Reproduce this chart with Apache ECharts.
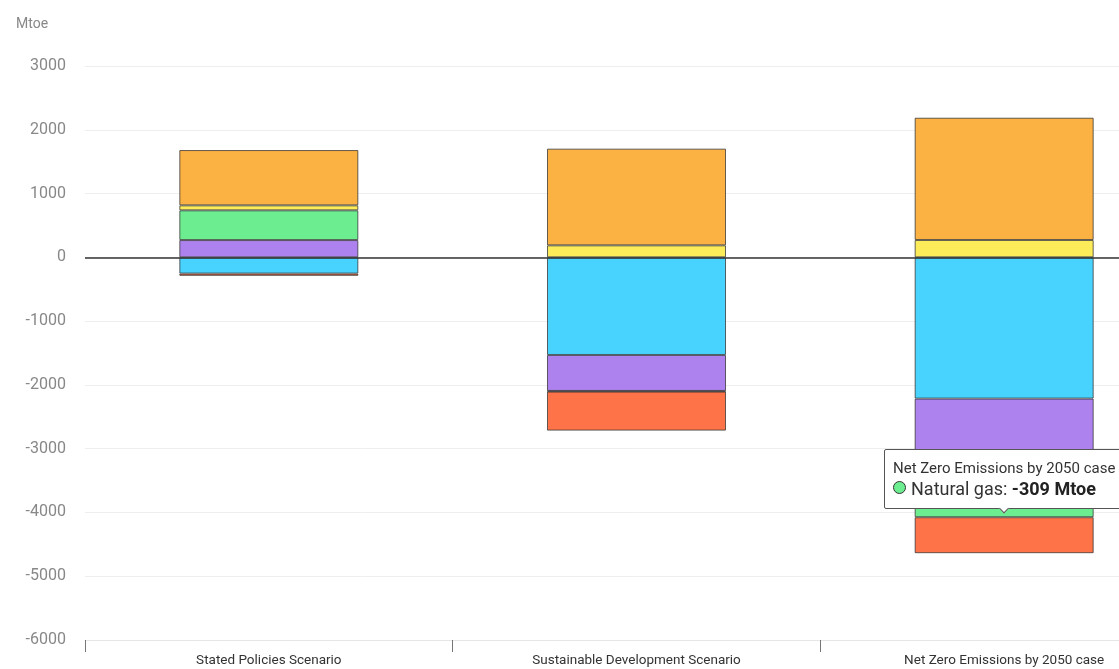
<!DOCTYPE html>
<html>
<head>
<meta charset="utf-8">
<title>Energy supply change by scenario</title>
<script src="https://cdn.jsdelivr.net/npm/echarts@6/dist/echarts.min.js"></script>
<style>
  html, body { margin: 0; padding: 0; background: #fff; overflow: hidden; }
  /* the reference is cropped on the right, so the chart runs past the window */
  #chart { width: 1188px; height: 669px; }
</style>
</head>
<body>
<div id="chart"></div>
<script>
// scenarios on the x axis
const scenarios = ['Stated Policies Scenario', 'Sustainable Development Scenario', 'Net Zero Emissions by 2050 case']

// change per source, Mtoe
const coal = [-255, -1531, -2215]
const oil = [271, -564, -1551]
const naturalGas = [466, -10, -309]
const nuclear = [78, 188, 272]
const renewables = [867, 1516, 1917]
const tradBiomass = [-35, -612, -564]

const yTicks = { min: -6000, max: 3000, step: 1000 }

const colors = {
  coal: '#48d3ff',
  oil: '#ae82ee',
  gas: '#6cee90',
  nuclear: '#fcec5a',
  renewables: '#fcb242',
  biomass: '#ff7348'
}

const chart = echarts.init(document.getElementById('chart'))

const barStyle = (color) => ({
  color,
  borderColor: 'rgba(50,50,50,0.75)',
  borderWidth: 1
})

const makeSeries = (name, data, color) => ({
  name,
  type: 'bar',
  stack: 'total',
  barWidth: 179,
  data,
  itemStyle: barStyle(color),
  emphasis: { disabled: true }
})

const series = [
  makeSeries('Coal', coal, colors.coal),
  makeSeries('Oil', oil, colors.oil),
  makeSeries('Natural gas', naturalGas, colors.gas),
  makeSeries('Nuclear', nuclear, colors.nuclear),
  makeSeries('Renewables', renewables, colors.renewables),
  makeSeries('Traditional use of biomass', tradBiomass, colors.biomass)
]

// zero line
series[0].markLine = {
  silent: true,
  symbol: 'none',
  label: { show: false },
  lineStyle: { color: '#333', width: 1.5, type: 'solid' },
  data: [{ yAxis: 0 }]
}

const option = {
  animation: false,
  title: {
    text: 'Mtoe',
    left: 11,
    top: 12,
    textStyle: { fontFamily: 'Roboto', fontSize: 14, fontWeight: 'normal', color: '#888' }
  },
  tooltip: {
    trigger: 'item',
    position: 'top',
    transitionDuration: 0,
    backgroundColor: '#fff',
    borderColor: '#555',
    borderWidth: 1,
    padding: [9, 8, 9, 8],
    extraCssText: 'box-shadow:none;border-radius:2px;margin-top:21px;',
    formatter: (p) => {
      const marker = '<span style="display:inline-block;width:11px;height:11px;border-radius:50%;' +
        'background:' + p.color + ';border:1.5px solid #333;margin-right:5px;vertical-align:1px"></span>'
      return '<div style="font-family:Roboto;font-size:15px;color:#333;line-height:19px">' + p.name + '</div>' +
        '<div style="font-family:Roboto;font-size:18px;color:#333;line-height:21px">' + marker +
        p.seriesName + ': <b style="color:#222">' + p.value + ' Mtoe</b></div>'
    }
  },
  grid: {
    left: 85,
    top: 66,
    right: 0,
    bottom: 29
  },
  xAxis: {
    type: 'category',
    data: scenarios,
    axisLine: { onZero: false, lineStyle: { color: '#e6e6e6', width: 1 } },
    axisTick: { show: true, length: 12, lineStyle: { color: '#777' } },
    axisLabel: {
      fontFamily: 'Roboto',
      fontSize: 13.5,
      color: '#333',
      margin: 14
    }
  },
  yAxis: {
    type: 'value',
    min: yTicks.min,
    max: yTicks.max,
    interval: yTicks.step,
    axisLine: { show: false },
    axisTick: { show: false },
    axisLabel: {
      fontFamily: 'Roboto',
      fontSize: 16,
      color: '#888',
      margin: 19,
      formatter: (v) => String(v)
    },
    splitLine: { lineStyle: { color: '#eeeeee' } }
  },
  series
}

chart.setOption(option)

// tooltip shown in the reference
chart.dispatchAction({ type: 'showTip', seriesIndex: 2, dataIndex: 2 })

window.addEventListener('resize', () => chart.resize())
</script>
</body>
</html>
